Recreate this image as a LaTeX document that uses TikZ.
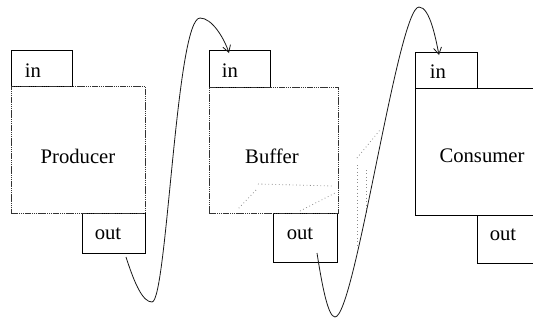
\documentclass[tikz,border=0pt]{standalone}
\usepackage{fontspec}
\setmainfont{Liberation Serif}
\usetikzlibrary{arrows.meta}
\tikzset{
  portbox/.style={draw=black, line width=0.6pt, inner sep=0pt, anchor=north west},
  mainbox/.style={draw=black!80, line width=0.7pt, dash pattern=on 1pt off 0.4pt, inner sep=0pt, anchor=north west},
  lbl/.style={inner sep=0pt, font=\fontsize{15.5}{18}\selectfont},
  flow/.style={draw=black!90, line width=0.6pt, -{Straight Barb[length=5pt,width=6pt]}},
  ghost/.style={draw=black!45, dotted, line width=0.6pt}
}
\begin{document}
\begin{tikzpicture}[x=0.75pt,y=-0.75pt]
\useasboundingbox (0,0) rectangle (533,322);
\clip (0,0) rectangle (533,322);
% Producer
\node[portbox, minimum width=45.75pt, minimum height=27pt] (pin) at (11,50) {};
\node[portbox, minimum width=47.25pt, minimum height=30pt] (pout) at (82,213) {};
\node[mainbox, minimum width=100.5pt, minimum height=95.25pt] (pmain) at (11,86) {};
\node[lbl] (pinl) at (33,71) {in};
\node[lbl] (pname) at (78,156) {Producer};
\node[lbl] (poutl) at (108,234) {out};
% Buffer
\node[portbox, minimum width=45.75pt, minimum height=27.75pt] (bin) at (209,50) {};
\node[portbox, minimum width=48pt, minimum height=36.75pt] (bout) at (273,213) {};
\node[mainbox, minimum width=96.75pt, minimum height=94.5pt] (bmain) at (209,87) {};
\node[lbl] (binl) at (230,71) {in};
\node[lbl] (bname) at (272,156) {Buffer};
\node[lbl] (boutl) at (300,234) {out};
% Consumer
\node[portbox, minimum width=46.5pt, minimum height=27pt] (cin) at (415,52) {};
\node[portbox, minimum width=60pt, minimum height=36pt] (cout) at (477,215) {};
\node[portbox, minimum width=105pt, minimum height=95.25pt] (cmain) at (415,88) {};
\node[lbl] (cinl) at (438,72) {in};
\node[lbl] (cname) at (482,156) {Consumer};
\node[lbl] (coutl) at (503,235) {out};
% faint dotted traces
\draw[ghost] (258,184) -- (333,186);
\draw[ghost] (256,190) -- (238,209);
\draw[ghost] (300,211) -- (337,192);
\draw[ghost] (357,158) -- (380,130);
\draw[ghost] (357,165) -- (357,248);
\draw[ghost] (366,170) -- (366,215);
% connectors
\coordinate (s1) at (126,257);
\coordinate (m1) at (152,302);
\coordinate (t1) at (200,18);
\coordinate (e1) at (229,53);
\draw[flow] (s1) .. controls (135,285) and (143,302) .. (m1)
  .. controls (167,302) and (176,18) .. (t1)
  .. controls (212,18) and (224,38) .. (e1);
\coordinate (s2) at (317,253);
\coordinate (m2) at (335,317);
\coordinate (t2) at (419,7);
\coordinate (e2) at (439,55);
\draw[flow] (s2) .. controls (322,285) and (328,317) .. (m2)
  .. controls (355,317) and (398,7) .. (t2)
  .. controls (430,7) and (436,40) .. (e2);
\end{tikzpicture}
\end{document}
